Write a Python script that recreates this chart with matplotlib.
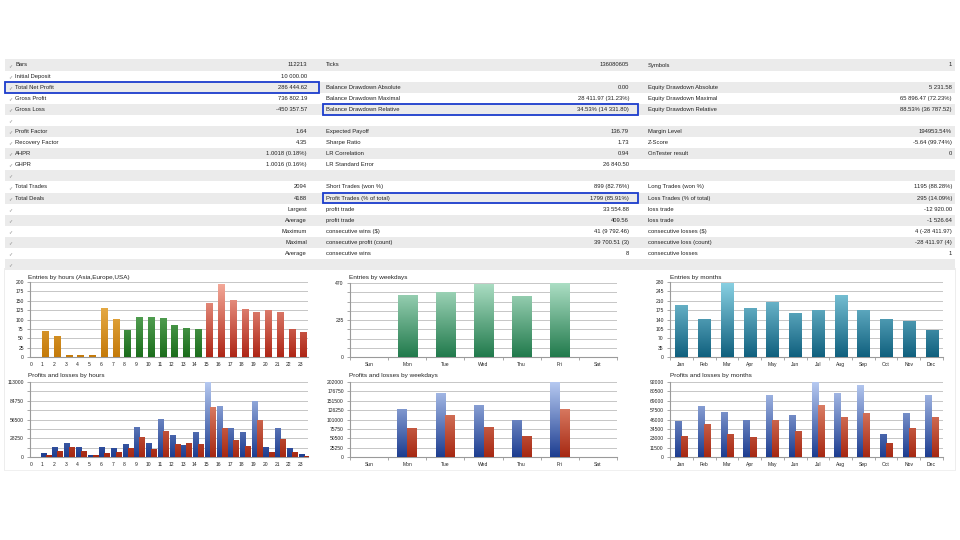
import numpy as np
import matplotlib
matplotlib.use('Agg')
import matplotlib.pyplot as plt
from matplotlib.colors import LinearSegmentedColormap
from matplotlib.patches import Rectangle

# ---------------- data ----------------
left_labels = ["Bars", "Initial Deposit", "Total Net Profit", "Gross Profit", "Gross Loss", "",
               "Profit Factor", "Recovery Factor", "AHPR", "GHPR", "",
               "Total Trades", "Total Deals", "", "", "", "", "", ""]
left_values = ["112213", "10 000.00", "286 444.62", "736 802.19", "-450 357.57", "",
               "1.64", "4.35", "1.0018 (0.18%)", "1.0016 (0.16%)", "",
               "2094", "4188", "Largest", "Average", "Maximum", "Maximal", "Average", ""]
mid_labels = ["Ticks", "", "Balance Drawdown Absolute", "Balance Drawdown Maximal", "Balance Drawdown Relative", "",
              "Expected Payoff", "Sharpe Ratio", "LR Correlation", "LR Standard Error", "",
              "Short Trades (won %)", "Profit Trades (% of total)", "profit trade", "profit trade",
              "consecutive wins ($)", "consecutive profit (count)", "consecutive wins", ""]
mid_values = ["136080605", "", "0.00", "28 411.97 (31.23%)", "34.53% (14 331.80)", "",
              "136.79", "1.73", "0.94", "26 840.50", "",
              "899 (82.76%)", "1799 (85.91%)", "33 554.88", "409.56",
              "41 (9 792.46)", "39 700.51 (3)", "8", ""]
right_labels = ["Symbols", "", "Equity Drawdown Absolute", "Equity Drawdown Maximal", "Equity Drawdown Relative", "",
                "Margin Level", "Z-Score", "OnTester result", "", "",
                "Long Trades (won %)", "Loss Trades (% of total)", "loss trade", "loss trade",
                "consecutive losses ($)", "consecutive loss (count)", "consecutive losses", ""]
right_values = ["1", "", "5 231.58", "65 896.47 (72.23%)", "88.53% (36 787.52)", "",
                "194953.54%", "-5.64 (99.74%)", "0", "", "",
                "1195 (88.28%)", "295 (14.09%)", "-12 920.00", "-1 526.64",
                "4 (-28 411.97)", "-28 411.97 (4)", "1", ""]
highlight_left = ["Total Net Profit"]
highlight_mid = ["Balance Drawdown Relative", "Profit Trades (% of total)"]

hours = list(range(24))
hour_session = ["Asia"] * 8 + ["Europe"] * 7 + ["USA"] * 9
hour_entries = [0, 68, 55, 4, 4, 3, 130, 101, 72, 106, 106, 102, 83, 77, 74,
                143, 193, 150, 127, 120, 125, 118, 74, 65]
weekdays = ["Sun", "Mon", "Tue", "Wed", "Thu", "Fri", "Sat"]
weekday_entries = [0, 390, 408, 462, 385, 470, 0]
months = ["Jan", "Feb", "Mar", "Apr", "May", "Jun", "Jul", "Aug", "Sep", "Oct", "Nov", "Dec"]
month_entries = [193, 139, 274, 181, 202, 161, 173, 228, 173, 139, 134, 100]

hour_profits = [0, 5000, 15000, 21000, 15000, 3000, 14000, 12500, 19000, 44000, 20000, 56000,
                32000, 18000, 37500, 113000, 76000, 43000, 36500, 83000, 14500, 43000, 13500, 4500]
hour_losses = [0, 2500, 9000, 14000, 8000, 2500, 5500, 7000, 13000, 29000, 11000, 38500,
               19000, 20000, 19000, 74000, 43000, 24500, 16500, 55000, 7500, 26000, 6500, 1000]
weekday_profits = [0, 129000, 172000, 138000, 99000, 202000, 0]
weekday_losses = [0, 78000, 112000, 79000, 55500, 129000, 0]
month_profits = [43000, 62000, 54000, 44500, 75000, 51000, 92000, 77500, 88000, 27000, 53000, 75500]
month_losses = [25500, 39500, 27500, 23500, 44500, 31500, 63000, 48000, 53500, 16500, 34500, 48500]

# axis maxima shown on the charts
ax_max = {"eh": 200, "ew": 470, "em": 280, "ph": 113000, "pw": 202000, "pm": 92000}

# ---------------- styles ----------------
W, H = 960, 540
TXT = '#222222'
FONT = 'Liberation Sans'
session_colors = {"Asia": ('#c47a0a', '#f6c262'),
                  "Europe": ('#1b6d1b', '#80c880'),
                  "USA": ('#ae2616', '#f6ac9c')}
wk_colors = ('#217a4c', '#acdec4')
mo_colors = ('#10607e', '#8ad2e4')
pr_colors = ('#1d3d90', '#b8cbf2')
ls_colors = ('#a62812', '#f2a48a')

fig = plt.figure(figsize=(9.6, 5.4), dpi=100)
fig.patch.set_facecolor('white')

bg = fig.add_axes([0, 0, 1, 1])
bg.set_xlim(0, W)
bg.set_ylim(H, 0)
bg.axis('off')

ROW0, PITCH = 65.0, 11.09
nrows = len(left_labels)
for i in range(nrows):
    yc = ROW0 + PITCH * i
    if i % 2 == 0:
        bg.add_patch(Rectangle((5, yc - PITCH / 2), 950, PITCH, facecolor='#ebebeb', edgecolor='none', zorder=0))
    bg.text(8, yc + 0.3, '\u2713', fontsize=3.6, color='#8a8a8a', va='center', ha='left', family='DejaVu Sans')
    fs = 4.2
    bg.text(15, yc, left_labels[i], fontsize=fs, color=TXT, va='center', ha='left', family=FONT)
    bg.text(307, yc, left_values[i], fontsize=fs, color=TXT, va='center', ha='right', family=FONT)
    bg.text(326, yc, mid_labels[i], fontsize=fs, color=TXT, va='center', ha='left', family=FONT)
    bg.text(629, yc, mid_values[i], fontsize=fs, color=TXT, va='center', ha='right', family=FONT)
    bg.text(648, yc, right_labels[i], fontsize=fs, color=TXT, va='center', ha='left', family=FONT)
    bg.text(952, yc, right_values[i], fontsize=fs, color=TXT, va='center', ha='right', family=FONT)
    if left_labels[i] in highlight_left:
        bg.add_patch(Rectangle((5, yc - 5.4), 314, 10.8, fill=False, edgecolor='#1b3ccc', lw=1.3, zorder=5))
    if mid_labels[i] in highlight_mid:
        bg.add_patch(Rectangle((323, yc - 5.4), 315, 10.8, fill=False, edgecolor='#1b3ccc', lw=1.3, zorder=5))

# faint frame around the chart panel
bg.plot([3.5, 3.5], [268, 470], color='#ededed', lw=0.7, zorder=1)
bg.plot([954.5, 954.5], [268, 470], color='#ededed', lw=0.7, zorder=1)
bg.plot([3.5, 954.5], [470, 470], color='#f0f0f0', lw=0.7, zorder=1)


def make_ax(l, t, r, b):
    return fig.add_axes([l / W, 1 - b / H, (r - l) / W, (b - t) / H])


def grad_bars(ax, xs, heights, width, colors, ymax):
    bars = ax.bar(xs, heights, width, color='none', edgecolor='none', zorder=3)
    for bar, c in zip(bars, colors):
        h = bar.get_height()
        if h <= 0:
            continue
        cmap = LinearSegmentedColormap.from_list('g', [c[0], c[1]])
        grad = np.linspace(0, h / ymax, 128).reshape(-1, 1)
        x0 = bar.get_x()
        ax.imshow(grad, extent=[x0, x0 + bar.get_width(), 0, h], origin='lower', cmap=cmap,
                  vmin=0, vmax=1, aspect='auto', zorder=3, interpolation='bilinear')
    return bars


def style(ax, ymax, label_step, xlim, title, tx, ty):
    ax.set_xlim(*xlim)
    ax.set_ylim(0, ymax)
    ax.set_yticks(np.linspace(0, ymax, 9), minor=True)
    maj = np.linspace(0, ymax, 9)[::label_step]
    ax.set_yticks(maj)
    ax.set_yticklabels([str(int(round(v))) for v in maj])
    ax.grid(axis='y', which='both', color='#c6c6c6', lw=0.7, zorder=0)
    ax.set_axisbelow(True)
    for s in ['top', 'right']:
        ax.spines[s].set_visible(False)
    for s in ['left', 'bottom']:
        ax.spines[s].set_color('#9a9a9a')
        ax.spines[s].set_linewidth(0.8)
    ax.tick_params(axis='y', which='both', length=2, width=0.6, color='#9a9a9a', labelsize=3.6,
                   labelcolor=TXT, pad=2.5)
    ax.tick_params(axis='x', which='major', length=0, labelsize=3.6, labelcolor=TXT, pad=3.5)
    ax.tick_params(axis='x', which='minor', length=2, width=0.6, color='#9a9a9a')
    for lab in ax.get_yticklabels() + ax.get_xticklabels():
        lab.set_family(FONT)
    ax.set_facecolor('none')
    bg.text(tx, ty, title, fontsize=4.6, color=TXT, va='center', ha='left', family=FONT)


def cat_axis(ax, names):
    n = len(names)
    ax.set_xticks(np.arange(n) + 0.5)
    ax.set_xticklabels(names, family=FONT)
    ax.set_xticks(np.arange(n + 1), minor=True)


# ---- Entries by hours ----
ax1 = make_ax(30, 282, 308, 357)
hx = np.array(hours)
grad_bars(ax1, hx + 0.25, hour_entries, 0.53, [session_colors[s] for s in hour_session], ax_max["eh"])
style(ax1, ax_max["eh"], 1, (-0.06, 23.64), "Entries by hours (Asia,Europe,USA)", 28, 277)
ax1.set_xticks(hx)
ax1.set_xticklabels([str(h) for h in hours], family=FONT)

# ---- Entries by weekdays ----
ax2 = make_ax(350, 283, 617, 357)
wx = np.arange(len(weekdays)) + 0.5
grad_bars(ax2, wx, weekday_entries, 0.5, [wk_colors] * len(weekdays), ax_max["ew"])
style(ax2, ax_max["ew"], 4, (0, len(weekdays)), "Entries by weekdays", 349, 277)
cat_axis(ax2, weekdays)

# ---- Entries by months ----
ax3 = make_ax(670, 282, 943, 357)
mx = np.arange(len(months)) + 0.5
grad_bars(ax3, mx, month_entries, 0.53, [mo_colors] * len(months), ax_max["em"])
style(ax3, ax_max["em"], 1, (0, len(months)), "Entries by months", 670, 277)
cat_axis(ax3, months)

# ---- Profits and losses by hours ----
ax4 = make_ax(30, 382, 308, 457)
w4 = 0.43
grad_bars(ax4, hx + 0.06, hour_profits, w4, [pr_colors] * 24, ax_max["ph"])
grad_bars(ax4, hx + 0.06 + w4, hour_losses, w4, [ls_colors] * 24, ax_max["ph"])
style(ax4, ax_max["ph"], 2, (-0.06, 23.64), "Profits and losses by hours", 28, 376)
ax4.set_xticks(hx)
ax4.set_xticklabels([str(h) for h in hours], family=FONT)

# ---- Profits and losses by weekdays ----
ax5 = make_ax(350, 382, 617, 457)
w5 = 0.255
grad_bars(ax5, wx - w5 / 2, weekday_profits, w5, [pr_colors] * 7, ax_max["pw"])
grad_bars(ax5, wx + w5 / 2, weekday_losses, w5, [ls_colors] * 7, ax_max["pw"])
style(ax5, ax_max["pw"], 1, (0, len(weekdays)), "Profits and losses by weekdays", 349, 376)
cat_axis(ax5, weekdays)

# ---- Profits and losses by months ----
ax6 = make_ax(670, 382, 943, 457)
w6 = 0.27
grad_bars(ax6, mx - w6 / 2, month_profits, w6, [pr_colors] * 12, ax_max["pm"])
grad_bars(ax6, mx + w6 / 2, month_losses, w6, [ls_colors] * 12, ax_max["pm"])
style(ax6, ax_max["pm"], 1, (0, len(months)), "Profits and losses by months", 670, 376)
cat_axis(ax6, months)

fig.savefig('out.png', dpi=100, facecolor='white')
